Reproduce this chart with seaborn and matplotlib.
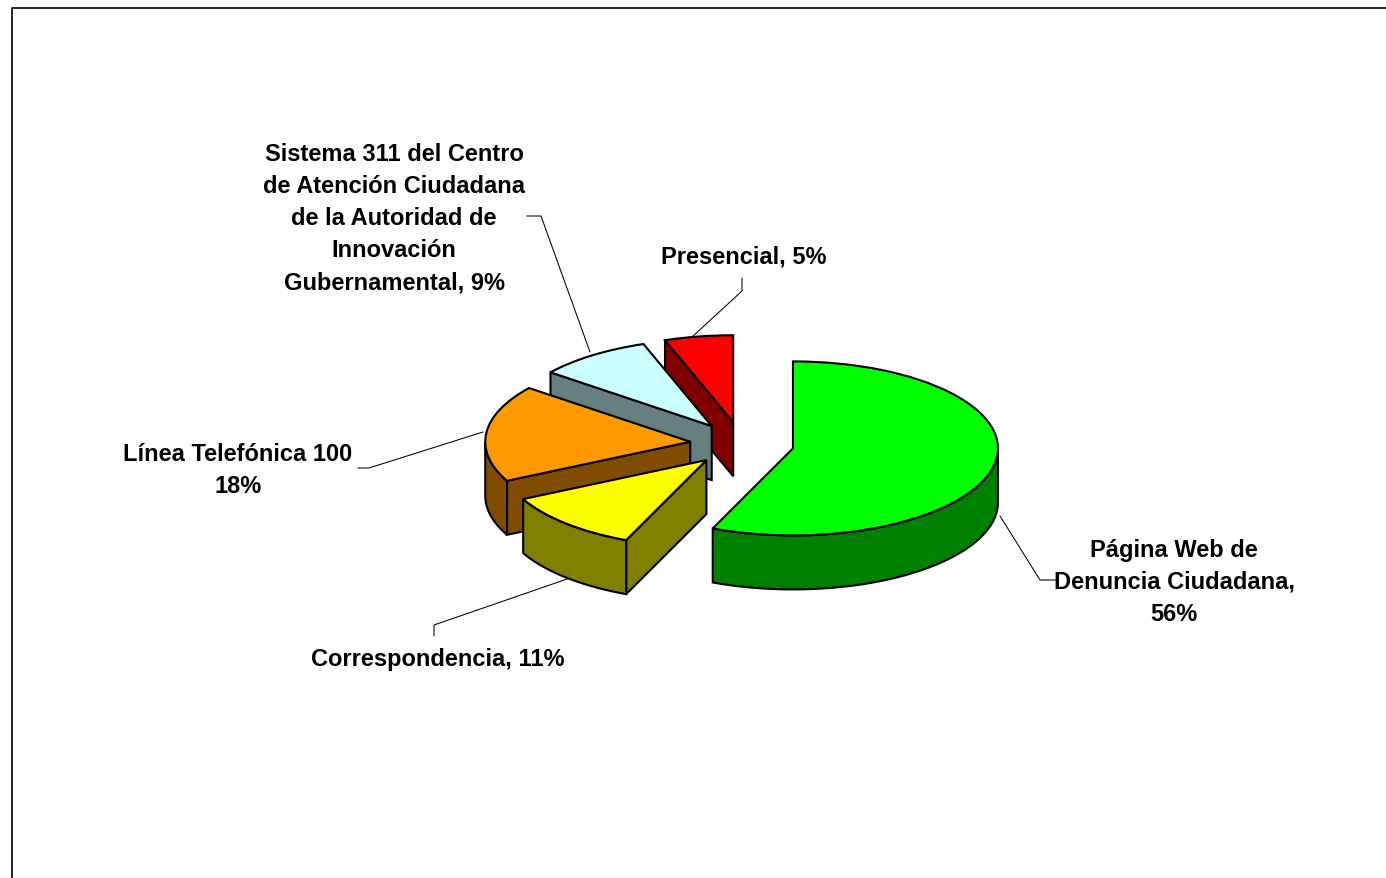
import numpy as np
import matplotlib
matplotlib.use("Agg")
import matplotlib.pyplot as plt
import seaborn as sns

# ---- data ----
categories = ["Página Web de Denuncia Ciudadana", "Correspondencia", "Línea Telefónica 100",
              "Sistema 311 del Centro de Atención Ciudadana de la Autoridad de Innovación Gubernamental",
              "Presencial"]
shares = [56.4, 11.2, 18.0, 9.0, 5.4]
label_texts = ["Página Web de\nDenuncia Ciudadana,\n56%",
               "Correspondencia, 11%",
               "Línea Telefónica 100\n18%",
               "Sistema 311 del Centro\nde Atención Ciudadana\nde la Autoridad de\nInnovación\nGubernamental, 9%",
               "Presencial, 5%"]

# ---- style / layout ----
top_colors = ["#00FF00", "#FFFF00", "#FF9900", "#CCFFFF", "#FF0000"]
wall_colors = ["#008000", "#808000", "#804C00", "#668080", "#800000"]
label_pos = [(1174, 582.5), (438, 660), (238, 470.5), (394, 219), (744, 257.5)]
leaders = [[(1056, 581), (1040, 581), (1000, 517)],
           [(434, 637), (434, 626), (570, 579)],
           [(358, 469), (369, 469), (483, 433)],
           [(527, 217), (541, 217), (590, 353)],
           [(742, 279), (742, 292), (692, 338)]]
W, H = 1386, 879
CX, CY, RX, RY = 742, 445, 205, 87   # pixels: pie centre and squashed radii
EXPLODE = 0.2537
DEPTH = 54 / RY                      # wall height in data units
EDGE = 1.5

sns.set_theme(style="white")
plt.rcParams["font.family"] = ["Liberation Sans", "DejaVu Sans"]

fig = plt.figure(figsize=(W / 100, H / 100), dpi=100, facecolor="white")
ax = fig.add_axes([0, 0, 1, 1])


def px(x, y):
    return (x - CX) / RX, (CY - y) / RY


wedges, _ = ax.pie(shares, explode=[EXPLODE] * len(shares), startangle=90, counterclock=False,
                   colors=top_colors, radius=1,
                   wedgeprops=dict(edgecolor="black", linewidth=EDGE, joinstyle="miter"))

order = [4, 3, 2, 1, 0]   # back to front
total = sum(shares)
edges = np.cumsum([0] + shares) / total * 2 * np.pi


def rim(t):
    return np.sin(t), np.cos(t)


for rank, i in enumerate(order):
    t0, t1 = edges[i], edges[i + 1]
    mid = (t0 + t1) / 2
    ox, oy = EXPLODE * np.sin(mid), EXPLODE * np.cos(mid)
    z = 10 + rank * 5
    # radial walls
    for t, visible in ((t1, np.sin(t1) > 0), (t0, np.sin(t0) < 0)):
        if visible:
            rx, ry = rim(t)
            xs = [ox, ox + rx, ox + rx, ox]
            ys = [oy, oy + ry, oy + ry - DEPTH, oy - DEPTH]
            ax.fill(xs, ys, facecolor=wall_colors[i], edgecolor="black", linewidth=EDGE,
                    joinstyle="miter", zorder=z)
    # outer rim wall (front half of the ellipse only)
    a, b = max(t0, np.pi / 2), min(t1, 3 * np.pi / 2)
    if b > a:
        tt = np.linspace(a, b, 80)
        rx, ry = rim(tt)
        xs = np.r_[ox + rx, (ox + rx)[::-1]]
        ys = np.r_[oy + ry, (oy + ry - DEPTH)[::-1]]
        ax.fill(xs, ys, facecolor=wall_colors[i], edgecolor="black", linewidth=EDGE,
                joinstyle="miter", zorder=z + 1)
    wedges[i].set_zorder(z + 2)

# leaders
for pts in leaders:
    xy = np.array([px(*p) for p in pts])
    ax.plot(xy[:, 0], xy[:, 1], color="black", lw=0.75, zorder=5)

# labels
for text, pos in zip(label_texts, label_pos):
    x, y = px(*pos)
    ax.text(x, y, text, ha="center", va="center", ma="center", fontsize=17.0,
            fontweight="bold", color="black", linespacing=1.5, zorder=60)

# outer frame (top and left only are inside the picture)
fx = [px(11.5, H + 5), px(11.5, 8.5), px(W + 5, 8.5)]
ax.plot([p[0] for p in fx], [p[1] for p in fx], color="black", lw=1.2, zorder=60, clip_on=False)

ax.set_aspect("auto")
ax.set_xlim(px(0, 0)[0], px(W, 0)[0])
ax.set_ylim(px(0, H)[1], px(0, 0)[1])
ax.axis("off")

fig.savefig("out.png", dpi=100, facecolor="white")
